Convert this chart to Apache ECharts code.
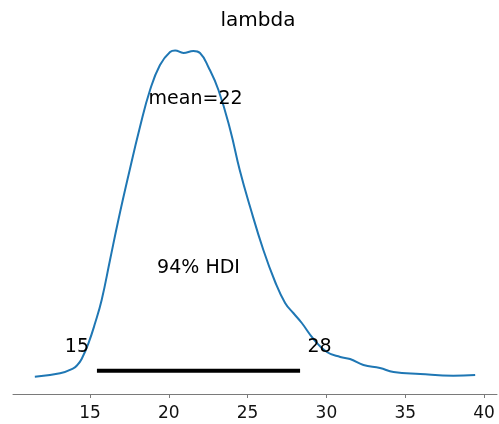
<!DOCTYPE html>
<html>
<head>
<meta charset="utf-8">
<script src="https://cdn.jsdelivr.net/npm/echarts@6/dist/echarts.min.js"></script>
<style>html,body{margin:0;padding:0;background:#fff}#c{width:499px;height:424px}</style>
</head>
<body>
<div id="c"></div>
<script>
// Posterior density of lambda (relative units)
var lambdaValues = [11.5,13.1,13.94,14.2,14.47,14.9,15.32,15.74,16.27,16.8,17.43,18.17,18.81,19.44,20.08,20.4,20.93,21.56,21.98,22.51,23.15,23.9,24.5,25.16,26.0,26.75,27.38,27.9,28.44,29.18,30.03,30.88,31.5,32.35,33.4,34.26,35.95,38.05,39.44];
var densityValues = [0.3,3.7,8.7,12,18,33.7,53.7,77,117,157,201,250,287,312,325,326.5,324,326,324,310,287,247,207,170,127,95,74,64,54,38,25,20,18,12,9,5,3,1.3,2];
var hdiInterval = [15.44, 28.33];
var hdiProb = 94;
var meanValue = 21.7;
var xTickValues = [15, 20, 25, 30, 35, 40];
var titleText = 'lambda';

var curve = lambdaValues.map(function (v, i) { return [v, densityValues[i]]; });
var hdiY = 6.3;
var font = 'DejaVu Sans';

var chart = echarts.init(document.getElementById('c'), null, {renderer: 'canvas'});
chart.setOption({
  animation: false,
  title: {
    text: titleText, left: 253, top: 6, textAlign: 'center',
    textStyle: {fontFamily: font, fontSize: 20, fontWeight: 'normal', color: '#000'}
  },
  grid: {left: 13, right: 2, top: 50, bottom: 30, containLabel: false},
  xAxis: {
    type: 'value', min: 10.114, max: 40.825,
    splitLine: {show: false},
    axisLine: {show: true, onZero: false, lineStyle: {color: '#7a7a7a', width: 1}},
    axisTick: {show: true, inside: false, length: 4, customValues: xTickValues, lineStyle: {color: '#7a7a7a'}},
    axisLabel: {customValues: xTickValues, margin: 11, fontFamily: font, fontSize: 17, color: '#111'}
  },
  yAxis: {type: 'value', show: false, min: -17, max: 327},
  series: [
    {
      type: 'line', data: curve, smooth: 0.45, showSymbol: false, symbol: 'none',
      lineStyle: {color: '#1f77b4', width: 2}, z: 2
    },
    {
      type: 'line', symbol: 'none', showSymbol: true, z: 3,
      data: [
        {value: [hdiInterval[0], hdiY], symbol: 'circle', symbolSize: 0.1, label: {show: true, offset: [-20, -24]}},
        {value: [hdiInterval[1], hdiY], symbol: 'circle', symbolSize: 0.1, label: {show: true, offset: [19.5, -24]}}
      ],
      lineStyle: {color: '#000', width: 4, cap: 'butt'},
      label: {
        show: true, position: 'inside', fontFamily: font, fontSize: 19, color: '#000',
        formatter: function (p) { return String(Math.round(p.value[0])); }
      }
    },
    {
      type: 'line', z: 4, showSymbol: true,
      lineStyle: {width: 0, opacity: 0},
      data: [
        {value: [meanValue, 278], symbol: 'circle', symbolSize: 0.1, label: {formatter: 'mean=' + Math.round(meanValue)}},
        {value: [(hdiInterval[0] + hdiInterval[1]) / 2, 109], symbol: 'circle', symbolSize: 0.1, label: {formatter: hdiProb + '% HDI'}}
      ],
      label: {show: true, position: 'inside', fontFamily: font, fontSize: 19, color: '#000'}
    }
  ]
});
</script>
</body>
</html>
